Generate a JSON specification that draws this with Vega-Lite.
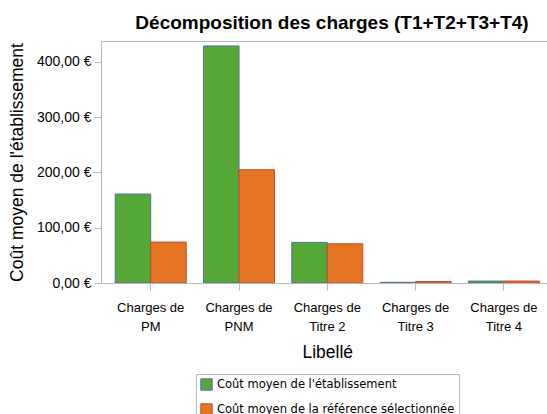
{
  "$schema": "https://vega.github.io/schema/vega-lite/v6.json",
  "autosize": {"type": "none"},
  "padding": {"left": 101, "top": 41, "right": 0, "bottom": 131},
  "width": 446,
  "height": 242,
  "title": {
    "text": "Décomposition des charges (T1+T2+T3+T4)",
    "font": "Liberation Sans",
    "fontSize": 19,
    "fontWeight": "bold",
    "color": "#000000",
    "anchor": "middle",
    "dx": 8,
    "offset": 8
  },
  "data": {
    "values": [
      {"Libelle": "Charges de PM", "Serie": "Coût moyen de l'établissement", "Valeur": 161},
      {"Libelle": "Charges de PM", "Serie": "Coût moyen de la référence sélectionnée", "Valeur": 74},
      {"Libelle": "Charges de PNM", "Serie": "Coût moyen de l'établissement", "Valeur": 429},
      {"Libelle": "Charges de PNM", "Serie": "Coût moyen de la référence sélectionnée", "Valeur": 205},
      {"Libelle": "Charges de Titre 2", "Serie": "Coût moyen de l'établissement", "Valeur": 73.5},
      {"Libelle": "Charges de Titre 2", "Serie": "Coût moyen de la référence sélectionnée", "Valeur": 71},
      {"Libelle": "Charges de Titre 3", "Serie": "Coût moyen de l'établissement", "Valeur": 1.2},
      {"Libelle": "Charges de Titre 3", "Serie": "Coût moyen de la référence sélectionnée", "Valeur": 2.8},
      {"Libelle": "Charges de Titre 4", "Serie": "Coût moyen de l'établissement", "Valeur": 3.5},
      {"Libelle": "Charges de Titre 4", "Serie": "Coût moyen de la référence sélectionnée", "Valeur": 3.5}
    ]
  },
  "mark": {"type": "bar", "strokeWidth": 1, "clip": true},
  "encoding": {
    "x": {
      "field": "Libelle",
      "type": "nominal",
      "sort": null,
      "scale": {"range": [0, 452.6], "paddingInner": 0.196, "paddingOuter": 0.161},
      "axis": {
        "title": "Libellé",
        "titleFont": "Liberation Sans",
        "titleFontSize": 17.5,
        "titleFontWeight": "normal",
        "titleColor": "#000000",
        "titlePadding": 10,
        "labelFont": "Liberation Sans",
        "labelFontSize": 13,
        "labelColor": "#000000",
        "labelAngle": 0,
        "labelPadding": 11,
        "labelLineHeight": 19,
        "labelExpr": "['Charges de', replace(datum.label, 'Charges de ', '')]",
        "tickSize": 7,
        "tickColor": "#b8b8b8",
        "domainColor": "#b8b8b8",
        "grid": false
      }
    },
    "xOffset": {
      "field": "Serie",
      "type": "nominal",
      "sort": null,
      "scale": {"paddingInner": 0, "paddingOuter": 0}
    },
    "y": {
      "field": "Valeur",
      "type": "quantitative",
      "scale": {"domain": [0, 438], "nice": false},
      "axis": {
        "title": "Coût moyen de l'établissement",
        "titleFont": "Liberation Sans",
        "titleFontSize": 17.5,
        "titleFontWeight": "normal",
        "titleColor": "#000000",
        "titlePadding": 10,
        "labelFont": "Liberation Sans",
        "labelFontSize": 14,
        "labelColor": "#000000",
        "labelPadding": 3,
        "values": [0, 100, 200, 300, 400],
        "labelExpr": "replace(format(datum.value, '.2f'), '.', ',') + ' €'",
        "tickSize": 7,
        "tickColor": "#b8b8b8",
        "domainColor": "#b8b8b8",
        "grid": false
      }
    },
    "fill": {
      "field": "Serie",
      "type": "nominal",
      "sort": null,
      "scale": {"range": ["#55a835", "#e57522"]},
      "legend": {
        "title": null,
        "orient": "none",
        "legendX": 95,
        "legendY": 333,
        "direction": "vertical",
        "padding": 4,
        "strokeColor": "#b8b8b8",
        "fillColor": "#ffffff",
        "symbolType": "square",
        "symbolSize": 130,
        "symbolStrokeWidth": 1,
        "symbolOpacity": 1,
        "labelFont": "DejaVu Sans",
        "labelFontSize": 11.5,
        "labelColor": "#000000",
        "labelOffset": 4,
        "rowPadding": 8,
        "labelLimit": 400
      }
    },
    "stroke": {
      "field": "Serie",
      "type": "nominal",
      "sort": null,
      "scale": {"range": ["#4f6fa6", "#c44a2e"]},
      "legend": {
        "title": null,
        "orient": "none",
        "legendX": 95,
        "legendY": 333
      }
    }
  },
  "config": {
    "view": {"stroke": "#b8b8b8"},
    "background": "#ffffff"
  }
}
